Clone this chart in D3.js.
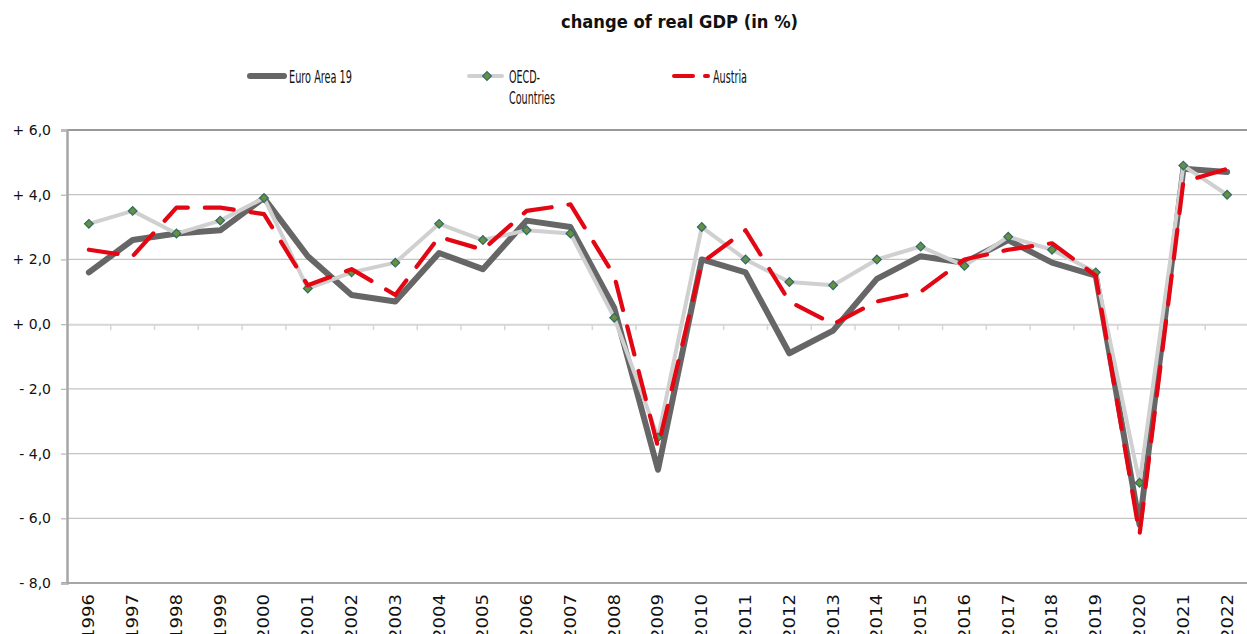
<!DOCTYPE html>
<html>
<head>
<meta charset="utf-8">
<script src="https://cdn.jsdelivr.net/npm/d3@7"></script>
<style>
  body { margin: 0; background: #fff; }
  text { font-family: "DejaVu Sans", sans-serif; fill: #111; }
</style>
</head>
<body>
<div id="chart"></div>
<script>
// chart values
var years = ["1996", "1997", "1998", "1999", "2000", "2001", "2002", "2003", "2004", "2005",
    "2006", "2007", "2008", "2009", "2010", "2011", "2012", "2013", "2014", "2015",
    "2016", "2017", "2018", "2019", "2020", "2021", "2022"];
var euroArea = [1.6, 2.6, 2.8, 2.9, 3.9, 2.1, 0.9, 0.7, 2.2, 1.7, 3.2, 3.0, 0.5, -4.5, 2.0, 1.6,
    -0.9, -0.2, 1.4, 2.1, 1.9, 2.6, 1.9, 1.5, -6.2, 4.8, 4.7];
var oecd = [3.1, 3.5, 2.8, 3.2, 3.9, 1.1, 1.6, 1.9, 3.1, 2.6, 2.9, 2.8, 0.2, -3.5, 3.0, 2.0,
    1.3, 1.2, 2.0, 2.4, 1.8, 2.7, 2.3, 1.6, -4.9, 4.9, 4.0];
var austria = [2.3, 2.1, 3.6, 3.6, 3.4, 1.2, 1.7, 0.9, 2.7, 2.3, 3.5, 3.7, 1.5, -3.8, 1.9, 2.9,
    0.7, 0.0, 0.7, 1.0, 2.0, 2.3, 2.5, 1.5, -6.5, 4.4, 4.8];
var yTicks = [-8, -6, -4, -2, 0, 2, 4, 6];
var title = "change of real GDP (in %)";

// dimensions
var width = 1247, height = 634;
var plotLeft = 67, plotRight = 1249, plotTop = 130, plotBottom = 583;

var svg = d3.select("#chart").append("svg")
    .attr("width", width)
    .attr("height", height);

var x = d3.scaleBand().domain(years).range([plotLeft, plotRight]).padding(0);
var y = d3.scaleLinear().domain([-8, 6]).range([plotBottom, plotTop]);

// gridlines
svg.append("g").selectAll("line")
    .data(yTicks.filter(function (d) { return d != 0 && d != 6 && d != -8; }))
    .enter().append("line")
    .attr("x1", plotLeft).attr("x2", plotRight)
    .attr("y1", function (d) { return y(d); })
    .attr("y2", function (d) { return y(d); })
    .style("stroke", "#c4c4c4")
    .style("stroke-width", 1.3);

// zero line with category ticks
var xAxis = d3.axisBottom(x).tickSize(0).tickFormat("");
svg.append("g")
    .attr("transform", "translate(0," + y(0) + ")")
    .call(xAxis)
    .call(function (g) { g.select(".domain").style("stroke", "#d6d6d6").style("stroke-width", 2); });
svg.append("g").selectAll("line")
    .data(years.slice(1))
    .enter().append("line")
    .attr("x1", function (d) { return x(d); })
    .attr("x2", function (d) { return x(d); })
    .attr("y1", y(0))
    .attr("y2", y(0) + 6)
    .style("stroke", "#d6d6d6")
    .style("stroke-width", 1.5);

// plot border (top, bottom)
svg.append("line").attr("x1", plotLeft).attr("x2", plotRight).attr("y1", y(6)).attr("y2", y(6))
    .style("stroke", "#999").style("stroke-width", 2);
svg.append("line").attr("x1", plotLeft - 5).attr("x2", plotRight).attr("y1", y(-8)).attr("y2", y(-8))
    .style("stroke", "#a6a6a6").style("stroke-width", 2);

// y axis
var fmt = function (d) {
    var s = Math.abs(d).toFixed(1).replace(".", ",");
    return (d < 0 ? "- " : "+ ") + s;
};
var yAxis = d3.axisLeft(y).tickValues(yTicks).tickFormat(fmt).tickSize(6).tickPadding(10);
svg.append("g")
    .attr("transform", "translate(" + plotLeft + ",0)")
    .call(yAxis)
    .call(function (g) {
        g.select(".domain").style("stroke", "#a6a6a6").style("stroke-width", 2.5);
        g.selectAll(".tick line").style("stroke", "#bbb").style("stroke-width", 1.3);
        g.selectAll(".tick text")
            .style("font-family", "DejaVu Sans, sans-serif")
            .style("font-size", "14px")
            .style("fill", "#111");
    });

// x labels, rotated
svg.append("g").selectAll("text")
    .data(years)
    .enter().append("text")
    .attr("transform", function (d) {
        return "translate(" + (x(d) + x.bandwidth() / 2) + ",594) rotate(-90)";
    })
    .attr("text-anchor", "end")
    .attr("dy", "0.36em")
    .attr("textLength", 46)
    .attr("lengthAdjust", "spacingAndGlyphs")
    .style("font-size", "15px")
    .text(function (d) { return d; });

// lines
var line = function (vals) {
    return d3.line()
        .x(function (d, i) { return x(years[i]) + x.bandwidth() / 2; })
        .y(function (d) { return y(d); })(vals);
};

svg.append("path").attr("d", line(euroArea))
    .style("fill", "none").style("stroke", "#666").style("stroke-width", 6)
    .style("stroke-linejoin", "round").style("stroke-linecap", "round");

svg.append("path").attr("d", line(oecd))
    .style("fill", "none").style("stroke", "#d0d0d0").style("stroke-width", 4)
    .style("stroke-linejoin", "round");

var diamond = d3.symbol().type(d3.symbolSquare).size(38);
svg.append("g").selectAll("path")
    .data(oecd)
    .enter().append("path")
    .attr("d", diamond)
    .attr("transform", function (d, i) {
        return "translate(" + (x(years[i]) + x.bandwidth() / 2) + "," + y(d) + ") rotate(45)";
    })
    .style("fill", "#6b8f3c").style("stroke", "#2d6a6e").style("stroke-width", 1.2);

svg.append("path").attr("d", line(austria))
    .style("fill", "none").style("stroke", "#e30613").style("stroke-width", 4.2)
    .style("stroke-dasharray", "29,17")
    .style("stroke-linejoin", "round").style("stroke-linecap", "round");

// title
svg.append("text")
    .attr("x", 561).attr("y", 28)
    .attr("textLength", 237)
    .attr("lengthAdjust", "spacingAndGlyphs")
    .style("font-size", "17px")
    .style("font-weight", "bold")
    .text(title);

// legend
var lg = svg.append("g");
lg.append("line").attr("x1", 250).attr("x2", 284).attr("y1", 76).attr("y2", 76)
    .style("stroke", "#666").style("stroke-width", 6).style("stroke-linecap", "round");
lg.append("text").attr("x", 289).attr("y", 83)
    .attr("textLength", 63).attr("lengthAdjust", "spacingAndGlyphs")
    .style("font-size", "17px").text("Euro Area 19");

lg.append("line").attr("x1", 469).attr("x2", 502).attr("y1", 76).attr("y2", 76)
    .style("stroke", "#d0d0d0").style("stroke-width", 4).style("stroke-linecap", "round");
lg.append("path").attr("d", diamond)
    .attr("transform", "translate(487,76) rotate(45)")
    .style("fill", "#6b8f3c").style("stroke", "#2d6a6e").style("stroke-width", 1.2);
lg.append("text").attr("x", 509).attr("y", 83)
    .attr("textLength", 31).attr("lengthAdjust", "spacingAndGlyphs")
    .style("font-size", "17px").text("OECD-");
lg.append("text").attr("x", 509).attr("y", 104)
    .attr("textLength", 46).attr("lengthAdjust", "spacingAndGlyphs")
    .style("font-size", "17px").text("Countries");

lg.append("line").attr("x1", 674).attr("x2", 693).attr("y1", 76).attr("y2", 76)
    .style("stroke", "#e30613").style("stroke-width", 4).style("stroke-linecap", "round");
lg.append("line").attr("x1", 705).attr("x2", 708).attr("y1", 76).attr("y2", 76)
    .style("stroke", "#e30613").style("stroke-width", 4).style("stroke-linecap", "round");
lg.append("text").attr("x", 713).attr("y", 83)
    .attr("textLength", 34).attr("lengthAdjust", "spacingAndGlyphs")
    .style("font-size", "17px").text("Austria");
</script>
</body>
</html>
